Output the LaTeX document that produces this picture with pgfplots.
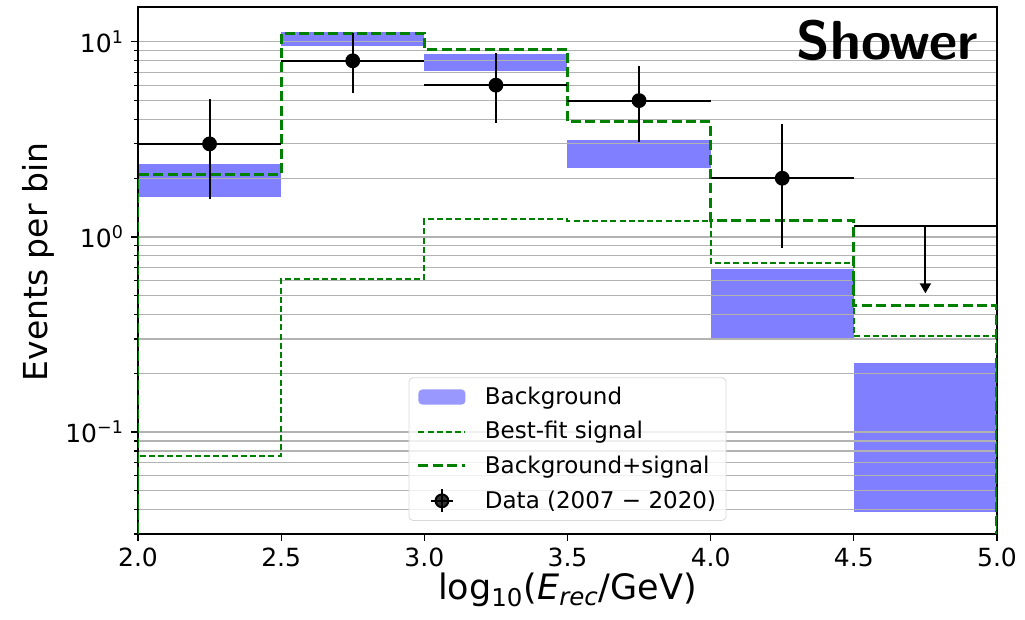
\documentclass[border=0pt]{standalone}
\usepackage{fontspec}
\setmainfont{DejaVu Sans}
\usepackage{pgfplots}
\pgfplotsset{compat=1.18}
\usetikzlibrary{arrows.meta}

\definecolor{bgblue}{RGB}{127,127,255}
\definecolor{mplgreen}{RGB}{0,128,0}

% fills under the grid, lines over it, spines on top
\pgfplotsset{
    layers/fillsunder/.define layer set={axis background,axis grid,main,axis ticks,axis lines,axis tick labels,axis descriptions,axis foreground}{},
}

\begin{document}
\begin{tikzpicture}
% 1 px = 0.5 pt, origin at lower left of the axis box
\begin{axis}[
    set layers=fillsunder,
    scale only axis,
    width=429.5pt, height=263.5pt,
    xmin=2, xmax=5,
    ymode=log, log basis y=10,
    ymin=0.03, ymax=15.1,
    xtick={2,2.5,3,3.5,4,4.5,5},
    xticklabel style={/pgf/number format/.cd, fixed, fixed zerofill, precision=1, assume math mode=true},
    yticklabel={\pgfmathtruncatemacro\ex{round(\tick)}\pgfmathtruncatemacro\ax{abs(\ex)}10\textsuperscript{\ifnum\ex<0 −\fi\ax}},
    ticklabel style={font=\fontsize{12.5}{14}\selectfont},
    tick align=outside,
    major tick length=3.5pt, minor tick length=2pt,
    tick style={black, line width=0.6pt},
    xtick pos=bottom, ytick pos=left,
    ymajorgrids, yminorgrids,
    major grid style={black!30, line width=0.6pt},
    minor grid style={black!30, line width=0.6pt},
    axis line style={line width=0.8pt},
    xlabel={log\textsubscript{10}(\textit{E}\textsubscript{\textit{rec}}/GeV)},
    ylabel={Events per bin},
    label style={font=\fontsize{16.5}{19}\selectfont},
    xlabel style={at={(axis description cs:0.5,-0.074)}, anchor=north, inner sep=0pt, font=\fontsize{17.5}{20}\selectfont},
    ylabel style={at={(axis description cs:-0.097,0.516)}, anchor=south, inner sep=0pt, rotate=0},
    legend style={at={(0.5,0.025)}, anchor=south, draw=black!15, rounded corners=2pt,
        fill=white, fill opacity=0.8, text opacity=1, inner xsep=4pt, inner ysep=3.5pt,
        font=\fontsize{11.5}{13}\selectfont, row sep=5pt, column sep=8pt, legend cell align=left,
        nodes={inner sep=1pt}},
    bgleg/.style={legend image code/.code={\fill[bgblue] (0pt,-3.8pt) rectangle (23.5pt,3.8pt);}},
    thinleg/.style={legend image code/.code={\draw[mplgreen, line width=1pt, dash pattern=on 3pt off 1.6pt] (0pt,0pt) -- (23.5pt,0pt);}},
    thickleg/.style={legend image code/.code={\draw[mplgreen, line width=1.5pt, dash pattern=on 5pt off 2.2pt] (0pt,0pt) -- (23.5pt,0pt);}},
    dataleg/.style={legend image code/.code={\draw[black, line width=1pt] (11.75pt,-5.8pt) -- (11.75pt,5.8pt) (6.25pt,0pt) -- (17.25pt,0pt); \fill[black] (11.75pt,0pt) circle (3.2pt);}},
]

% background band, one box per bin (lower, upper)
\addplot[on layer=axis background, fill=bgblue, draw=none, bgleg]
    coordinates {(2,1.60) (2.5,1.60) (2.5,2.37) (2,2.37)};
\addplot[on layer=axis background, fill=bgblue, draw=none, forget plot] coordinates {(2.5,9.58) (3,9.58) (3,11.2) (2.5,11.2)};
\addplot[on layer=axis background, fill=bgblue, draw=none, forget plot] coordinates {(3,7.13) (3.5,7.13) (3.5,8.68) (3,8.68)};
\addplot[on layer=axis background, fill=bgblue, draw=none, forget plot] coordinates {(3.5,2.25) (4,2.25) (4,3.14) (3.5,3.14)};
\addplot[on layer=axis background, fill=bgblue, draw=none, forget plot] coordinates {(4,0.302) (4.5,0.302) (4.5,0.683) (4,0.683)};
\addplot[on layer=axis background, fill=bgblue, draw=none, forget plot] coordinates {(4.5,0.0387) (5,0.0387) (5,0.225) (4.5,0.225)};

% best-fit signal
\addplot[mplgreen, line width=1pt, dash pattern=on 3pt off 1.6pt, const plot mark left, thinleg]
    coordinates {(2,0.001) (2,0.0756) (2.5,0.607) (3,1.23) (3.5,1.21) (4,0.733) (4.5,0.312) (5,0.312) (5,0.001)};

% background + signal
\addplot[mplgreen, line width=1.5pt, dash pattern=on 5pt off 2.2pt, const plot mark left, thickleg]
    coordinates {(2,0.001) (2,2.08) (2.5,11.1) (3,9.18) (3.5,3.90) (4,1.22) (4.5,0.444) (5,0.444) (5,0.001)};

% data with errors
\addplot[black, only marks, mark=*, mark size=3.2pt, line width=1pt, dataleg,
    error bars/.cd, x dir=both, x explicit, y dir=both, y explicit,
    error mark=none, error bar style={line width=1pt, black}]
    coordinates {
    (2.25,3.0) += (0.25,2.1)  -= (0.25,1.43)
    (2.75,8.0) += (0.25,3.1)  -= (0.25,2.5)
    (3.25,6.0) += (0.25,2.75) -= (0.25,2.14)
    (3.75,5.0) += (0.25,2.56) -= (0.25,1.92)
    (4.25,2.0) += (0.25,1.8)  -= (0.25,1.125)
    };

% upper limit in last bin
\addplot[black, line width=1pt, forget plot] coordinates {(4.5,1.14) (5,1.14)};
\addplot[black, line width=1pt, forget plot, -{Triangle[length=5pt,width=5.5pt]}] coordinates {(4.75,1.14) (4.75,0.514)};

\legend{Background, Best-fit signal, Background+signal, Data (2007 − 2020)}

\node[anchor=north east, inner sep=0pt, font=\sffamily\bfseries\fontsize{27.5}{30}\selectfont]
    at (rel axis cs:0.978,0.975) {Shower};
\end{axis}
% page = 1025x620 px
\path (-69pt,-43pt) rectangle (443.5pt,267pt);
\end{tikzpicture}
\end{document}
